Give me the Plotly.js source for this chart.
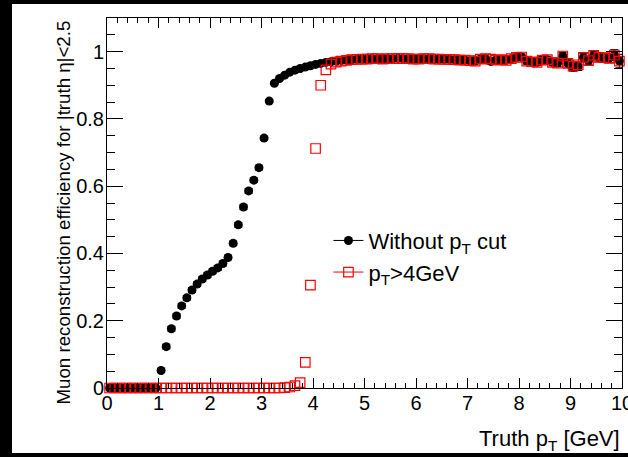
<!DOCTYPE html>
<html>
<head>
<meta charset="utf-8">
<script src="https://cdn.plot.ly/plotly-3.0.1.min.js"></script>
<style>
  html, body { margin: 0; padding: 0; background: #000; width: 628px; height: 457px; overflow: hidden; }
  #chart { position: absolute; left: 12px; top: 4px; width: 616px; height: 449px; background: #fff; }
</style>
</head>
<body>
<div id="chart"></div>
<script>
// Truth pT bin centres [GeV], 0.1 GeV wide bins
const ptCentres = [
  0.05,0.15,0.25,0.35,0.45,0.55,0.65,0.75,0.85,0.95,
  1.05,1.15,1.25,1.35,1.45,1.55,1.65,1.75,1.85,1.95,
  2.05,2.15,2.25,2.35,2.45,2.55,2.65,2.75,2.85,2.95,
  3.05,3.15,3.25,3.35,3.45,3.55,3.65,3.75,3.85,3.95,
  4.05,4.15,4.25,4.35,4.45,4.55,4.65,4.75,4.85,4.95,
  5.05,5.15,5.25,5.35,5.45,5.55,5.65,5.75,5.85,5.95,
  6.05,6.15,6.25,6.35,6.45,6.55,6.65,6.75,6.85,6.95,
  7.05,7.15,7.25,7.35,7.45,7.55,7.65,7.75,7.85,7.95,
  8.05,8.15,8.25,8.35,8.45,8.55,8.65,8.75,8.85,8.95,
  9.05,9.15,9.25,9.35,9.45,9.55,9.65,9.75,9.85,9.95
];

// Efficiency without any reconstructed-pT requirement
const effNoCut = [
  0,0,0,0,0,0,0,0,0,0,
  0.052,0.123,0.176,0.214,0.244,0.268,0.291,0.309,0.324,0.336,
  0.347,0.357,0.370,0.388,0.430,0.485,0.538,0.586,0.618,0.655,
  0.743,0.853,0.906,0.920,0.930,0.939,0.945,0.950,0.954,0.958,
  0.962,0.965,0.968,0.970,0.972,0.974,0.975,0.976,0.977,0.978,
  0.978,0.979,0.979,0.978,0.979,0.979,0.980,0.979,0.979,0.978,
  0.978,0.979,0.979,0.978,0.978,0.977,0.977,0.976,0.975,0.975,
  0.973,0.972,0.978,0.979,0.971,0.975,0.976,0.974,0.979,0.983,
  0.984,0.972,0.970,0.968,0.975,0.976,0.968,0.966,0.987,0.965,
  0.953,0.956,0.983,0.973,0.989,0.983,0.982,0.980,0.990,0.972
];
const errNoCut = [
  0,0,0,0,0,0,0,0,0,0,
  0.006,0.007,0.007,0.007,0.007,0.007,0.007,0.007,0.007,0.007,
  0.007,0.007,0.007,0.007,0.007,0.007,0.007,0.007,0.007,0.007,
  0.006,0.005,0.004,0.004,0.004,0.004,0.004,0.004,0.004,0.004,
  0.004,0.004,0.004,0.004,0.004,0.004,0.004,0.004,0.004,0.004,
  0.004,0.004,0.005,0.005,0.005,0.005,0.005,0.005,0.005,0.005,
  0.005,0.006,0.006,0.006,0.006,0.006,0.006,0.006,0.007,0.007,
  0.007,0.007,0.007,0.007,0.008,0.008,0.008,0.008,0.008,0.008,
  0.009,0.009,0.009,0.009,0.010,0.010,0.010,0.010,0.011,0.011,
  0.011,0.012,0.012,0.012,0.012,0.013,0.013,0.013,0.016,0.020
];

// Efficiency with reconstructed pT > 4 GeV
const effCut = [
  0,0,0,0,0,0,0,0,0,0,
  0,0,0,0,0,0,0,0,0,0,
  0,0,0,0,0,0,0,0,0,0,
  0,0,0,0,0.001,0.003,0.007,0.016,0.076,0.306,
  0.712,0.900,0.946,0.963,0.969,0.972,0.974,0.976,0.977,0.978,
  0.978,0.979,0.979,0.978,0.979,0.979,0.980,0.979,0.979,0.978,
  0.978,0.979,0.979,0.978,0.978,0.977,0.977,0.976,0.975,0.975,
  0.973,0.972,0.978,0.979,0.978,0.975,0.976,0.974,0.979,0.983,
  0.984,0.972,0.970,0.968,0.975,0.976,0.968,0.966,0.987,0.965,
  0.957,0.961,0.983,0.973,0.989,0.983,0.982,0.980,0.990,0.972
];

const seriesNames = ['Without p<sub>T</sub> cut', 'p<sub>T</sub>>4GeV'];
const FONT = 'Liberation Sans, Arial, Helvetica, sans-serif';

const traces = [
  {
    x: ptCentres, y: effNoCut, type: 'scatter', mode: 'markers',
    marker: { symbol: 'circle', size: 9, color: '#000' },
    error_y: { type: 'data', array: errNoCut, visible: true, color: '#000', thickness: 1, width: 4 },
    cliponaxis: false, showlegend: false, hoverinfo: 'x+y'
  },
  {
    x: ptCentres, y: effCut, type: 'scatter', mode: 'markers',
    marker: { symbol: 'square-open', size: 9.5, color: '#ff0000', line: { width: 1.2, color: '#ff0000' } },
    cliponaxis: false, showlegend: false, hoverinfo: 'x+y'
  },
  // legend keys (line + marker)
  {
    x: [null], y: [null], type: 'scatter', mode: 'lines+markers', name: seriesNames[0],
    line: { color: '#000', width: 1 },
    marker: { symbol: 'circle', size: 9, color: '#000' }
  },
  {
    x: [null], y: [null], type: 'scatter', mode: 'lines+markers', name: seriesNames[1],
    line: { color: '#ff0000', width: 1 },
    marker: { symbol: 'square-open', size: 9.5, color: '#ff0000', line: { width: 1.2, color: '#ff0000' } }
  }
];

const axisCommon = {
  showgrid: false, zeroline: false,
  showline: true, linecolor: '#000', linewidth: 1,
  mirror: 'allticks', ticks: 'inside', tickcolor: '#000', tickwidth: 1,
  ticklabeloverflow: 'allow',
  tickfont: { family: FONT, size: 20, color: '#000' }
};

const layout = {
  width: 616, height: 449,
  margin: { l: 95, r: 6, t: 14, b: 65, pad: 0 },
  paper_bgcolor: '#fff', plot_bgcolor: '#fff',
  font: { family: FONT, color: '#000' },
  xaxis: Object.assign({}, axisCommon, {
    range: [0, 10], dtick: 1, tick0: 0, ticklen: 10, ticklabelstandoff: -3,
    minor: { dtick: 0.2, ticklen: 5, tickcolor: '#000', ticks: 'inside' }
  }),
  yaxis: Object.assign({}, axisCommon, {
    range: [0, 1.1], dtick: 0.2, tick0: 0, ticklen: 16, ticklabelstandoff: -2,
    minor: { dtick: 0.05, ticklen: 8, tickcolor: '#000', ticks: 'inside' }
  }),
  legend: {
    x: 0.43, y: 0.455, xanchor: 'left', yanchor: 'top',
    bgcolor: 'rgba(0,0,0,0)', borderwidth: 0,
    font: { family: FONT, size: 22, color: '#000' },
    tracegroupgap: 0
  },
  annotations: [
    {
      text: 'Truth p<sub>T</sub> [GeV]', xref: 'paper', yref: 'paper',
      x: 1, y: 0, xanchor: 'right', yanchor: 'top', yshift: -36,
      showarrow: false, font: { family: FONT, size: 22, color: '#000' }
    },
    {
      text: 'Muon reconstruction efficiency for |truth η|<2.5', xref: 'paper', yref: 'paper',
      x: -0.0845, y: 1, xanchor: 'center', yanchor: 'top', textangle: -90,
      showarrow: false, font: { family: FONT, size: 18.7, color: '#000' }
    }
  ],
  showlegend: true
};

Plotly.newPlot('chart', traces, layout, { displayModeBar: false, staticPlot: true });
</script>
</body>
</html>
